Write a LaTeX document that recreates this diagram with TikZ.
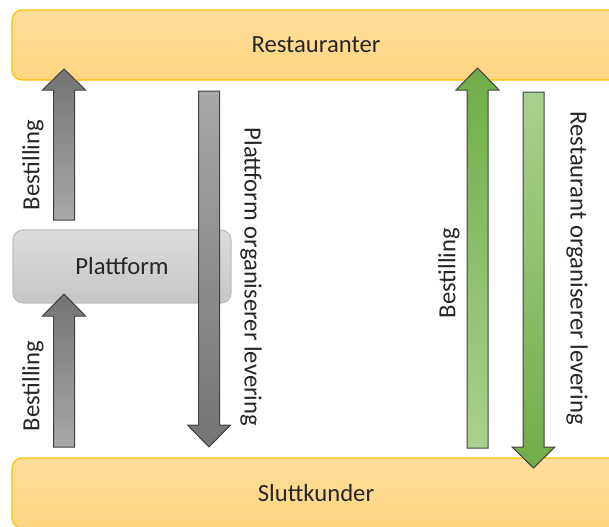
\documentclass[tikz,border=0pt]{standalone}
\usepackage{fontspec}
\setmainfont{Carlito}
\usetikzlibrary{calc}

\definecolor{bartop}{HTML}{FFDD9C}
\definecolor{barbot}{HTML}{FFD580}
\definecolor{barline}{HTML}{FFC000}
\definecolor{plattop}{HTML}{DCDCDC}
\definecolor{platbot}{HTML}{C6C6C6}
\definecolor{platline}{HTML}{BFBFBF}
\definecolor{graydark}{HTML}{747474}
\definecolor{graylight}{HTML}{A8A8A8}
\definecolor{greendark}{HTML}{70AD47}
\definecolor{greenlight}{HTML}{A9D18E}

% block arrow: x, tail y, head base y, tip y, top colour, bottom colour
\newcommand{\blockarrow}[6]{%
  \draw[arrowline, top color=#5, bottom color=#6]
    (#1-10.5,#2) -- (#1-10.5,#3) -- (#1-21.5,#3) -- (#1,#4)
    -- (#1+21.5,#3) -- (#1+10.5,#3) -- (#1+10.5,#2) -- cycle;}

\begin{document}
\begin{tikzpicture}[
        x=0.75pt, y=-0.75pt,
        every node/.style={font=\fontsize{18.5}{22}\selectfont, text=black!85},
        bar/.style={rectangle, draw=barline, line width=0.9pt, rounded corners=7.5pt,
            top color=bartop, bottom color=barbot, minimum width=456pt, minimum height=52.5pt},
        platbox/.style={rectangle, draw=platline, line width=0.9pt, rounded corners=7.5pt,
            top color=plattop, bottom color=platbot, minimum width=163.5pt, minimum height=54.75pt},
        arrowline/.style={draw=black!75, line width=0.75pt},
        uplabel/.style={rotate=90},
        downlabel/.style={rotate=-90}
    ]
    \useasboundingbox (0,0) rectangle (609,526);
    \clip (0,0) rectangle (609,526);
    \node[bar] (rest) at (316,45) {Restauranter};
    \node[bar] (slutt) at (316,493) {Sluttkunder};
    \node[platbox] (plat) at (122,266.5) {Plattform};
    % platform side
    \blockarrow{64}{220}{90}{69}{graydark}{graylight}
    \blockarrow{64}{447}{316}{294}{graydark}{graylight}
    \blockarrow{209}{91}{425}{447}{graylight}{graydark}
    % restaurant side
    \blockarrow{477.5}{448}{90}{68}{greendark}{greenlight}
    \blockarrow{533.5}{92}{447}{468}{greenlight}{greendark}
    \node[uplabel] (best1) at (33,165) {Bestilling};
    \node[uplabel] (best2) at (33,386) {Bestilling};
    \node[downlabel] (plev) at (251,277) {Plattform organiserer levering};
    \node[uplabel] (best3) at (449,273) {Bestilling};
    \node[downlabel] (rlev) at (577,268) {Restaurant organiserer levering};
\end{tikzpicture}
\end{document}
